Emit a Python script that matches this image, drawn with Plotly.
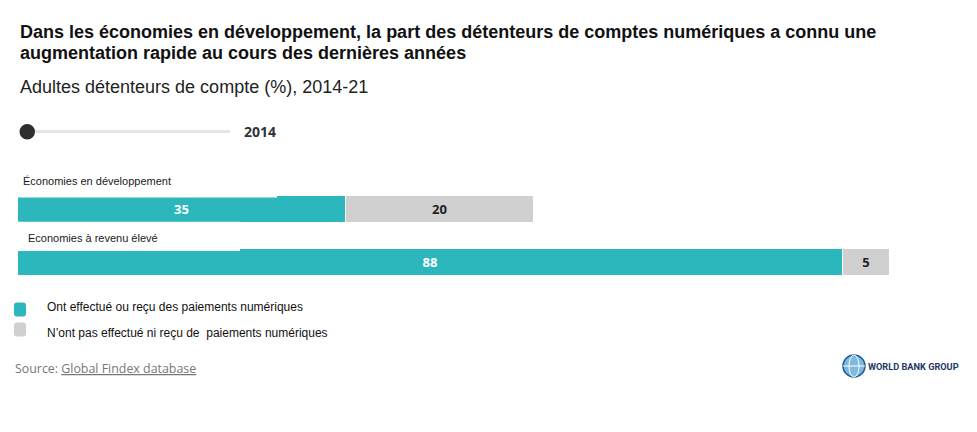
import plotly.graph_objects as go

# ---- data ----
categories = ["Economies à revenu élevé", "Économies en développement"]  # bottom -> top
cat_labels = ["Economies à revenu élevé", "Économies en développement"]
series_names = ["Ont effectué ou reçu des paiements numériques",
                "N’ont pas effectué ni reçu de  paiements numériques"]
digital = [88, 35]
non_digital = [5, 20]
year = "2014"
source_text = "Global Findex database"

TEAL = "#2cb7bd"
GREY = "#d0d0d0"

W, H = 977, 432
OFF = 8  # page body margin
L, T = 18 - OFF, 183 - OFF
PW, PH = 938, 106
R = W - L - PW
B = H - T - PH


def px(x):
    return (x - OFF - L) / PW


def py(y):
    return (T + PH - (y - OFF)) / PH


fig = go.Figure()
fig.add_trace(go.Bar(
    y=categories, x=digital, orientation="h", name=series_names[0],
    marker=dict(color=TEAL, line=dict(color="white", width=1)),
    text=[str(v) for v in digital], textposition="inside", insidetextanchor="middle",
    textfont=dict(family="Open Sans", size=13, color="white", weight="bold"),
    width=0.52, showlegend=False, hoverinfo="x+name"))
fig.add_trace(go.Bar(
    y=categories, x=non_digital, orientation="h", name=series_names[1],
    marker=dict(color=GREY, line=dict(color="white", width=1)),
    text=[str(v) for v in non_digital], textposition="inside", insidetextanchor="middle",
    textfont=dict(family="Open Sans", size=13, color="#222", weight="bold"),
    width=0.52, showlegend=False, hoverinfo="x+name"))

ann = []
shapes = []

# titles
ann.append(dict(text="<b>Dans les économies en développement, la part des détenteurs de comptes numériques a connu une</b>",
                x=px(18), y=py(32), xanchor="left", yanchor="middle",
                font=dict(family="Liberation Sans, Arial", size=18, color="#111")))
ann.append(dict(text="<b>augmentation rapide au cours des dernières années</b>",
                x=px(18), y=py(53), xanchor="left", yanchor="middle",
                font=dict(family="Liberation Sans, Arial", size=18, color="#111")))
ann.append(dict(text="Adultes détenteurs de compte (%), 2014-21",
                x=px(18), y=py(87), xanchor="left", yanchor="middle",
                font=dict(family="Liberation Sans, Arial", size=18, color="#222")))

# slider look-alike
shapes.append(dict(type="line", x0=px(27), x1=px(230), y0=py(131.5), y1=py(131.5),
                   line=dict(color="#e4e4e4", width=3)))
shapes.append(dict(type="circle", x0=px(19.5), x1=px(35), y0=py(124), y1=py(139.5),
                   fillcolor="#2e2e2e", line=dict(width=0)))
ann.append(dict(text="<b>" + year + "</b>", x=px(242), y=py(131), xanchor="left", yanchor="middle",
                font=dict(family="Open Sans", size=14, color="#333")))

# white label boxes (overlap bar edges slightly, as in the original)
shapes.append(dict(type="rect", x0=px(17), x1=px(277), y0=py(168), y1=py(197.5),
                   fillcolor="white", line=dict(width=0), layer="above"))
shapes.append(dict(type="rect", x0=px(17), x1=px(240), y0=py(221.8), y1=py(251),
                   fillcolor="white", line=dict(width=0), layer="above"))

# category labels
label_pos = {categories[1]: (21, 181), categories[0]: (26, 238)}
for c, lab in zip(categories, cat_labels):
    xx, yy = label_pos[c]
    ann.append(dict(text=lab, x=px(xx), y=py(yy), xanchor="left", yanchor="middle",
                    font=dict(family="Liberation Sans, Arial", size=11, color="#1a1a1a")))


def rounded_rect(x0, y0, x1, y1, r):
    pts = [
        f"M {px(x0 + r)},{py(y0)}",
        f"L {px(x1 - r)},{py(y0)}",
        f"Q {px(x1)},{py(y0)} {px(x1)},{py(y0 + r)}",
        f"L {px(x1)},{py(y1 - r)}",
        f"Q {px(x1)},{py(y1)} {px(x1 - r)},{py(y1)}",
        f"L {px(x0 + r)},{py(y1)}",
        f"Q {px(x0)},{py(y1)} {px(x0)},{py(y1 - r)}",
        f"L {px(x0)},{py(y0 + r)}",
        f"Q {px(x0)},{py(y0)} {px(x0 + r)},{py(y0)}",
        "Z",
    ]
    return " ".join(pts)


# legend
for i, (nm, col) in enumerate(zip(series_names, [TEAL, GREY])):
    yc = 309.5 + i * 20
    shapes.append(dict(type="path", path=rounded_rect(14, yc - 7, 26, yc + 7, 3),
                       fillcolor=col, line=dict(width=0), layer="above"))
    ann.append(dict(text=nm, x=px(45), y=py(307 + i * 26), xanchor="left", yanchor="middle",
                    font=dict(family="Liberation Sans, Arial", size=12, color="#111")))

# source
ann.append(dict(text="Source: <u>" + source_text + "</u>", x=px(13), y=py(368.5),
                xanchor="left", yanchor="middle",
                font=dict(family="Open Sans", size=12.4, color="#777")))

# World Bank logo
shapes.append(dict(type="circle", x0=px(843), x1=px(865), y0=py(355), y1=py(377),
                   fillcolor="#7fb9e0", line=dict(color="#1f5f99", width=1.5)))
shapes.append(dict(type="circle", x0=px(849), x1=px(859), y0=py(355), y1=py(377),
                   fillcolor="rgba(0,0,0,0)", line=dict(color="white", width=1)))
shapes.append(dict(type="line", x0=px(843), x1=px(865), y0=py(366), y1=py(366),
                   line=dict(color="white", width=1)))
ann.append(dict(text="<b>WORLD BANK GROUP</b>", x=px(866), y=py(366.5), xanchor="left", yanchor="middle",
                font=dict(family="Roboto", size=9.2, color="#1f3864")))

for a in ann:
    a.update(xref="paper", yref="paper", showarrow=False)
for s in shapes:
    s.update(xref="paper", yref="paper")

fig.update_layout(
    width=W, height=H, margin=dict(l=L, r=R, t=T, b=B, pad=0),
    paper_bgcolor="white", plot_bgcolor="white",
    barmode="stack", bargap=0,
    xaxis=dict(range=[0, 100], visible=False, fixedrange=True),
    yaxis=dict(type="category", categoryorder="array", categoryarray=categories,
               range=[-0.5, 1.5], visible=False, fixedrange=True),
    annotations=ann, shapes=shapes, showlegend=False,
    uniformtext=dict(mode="show", minsize=8),
)

fig.write_html("out.html")
